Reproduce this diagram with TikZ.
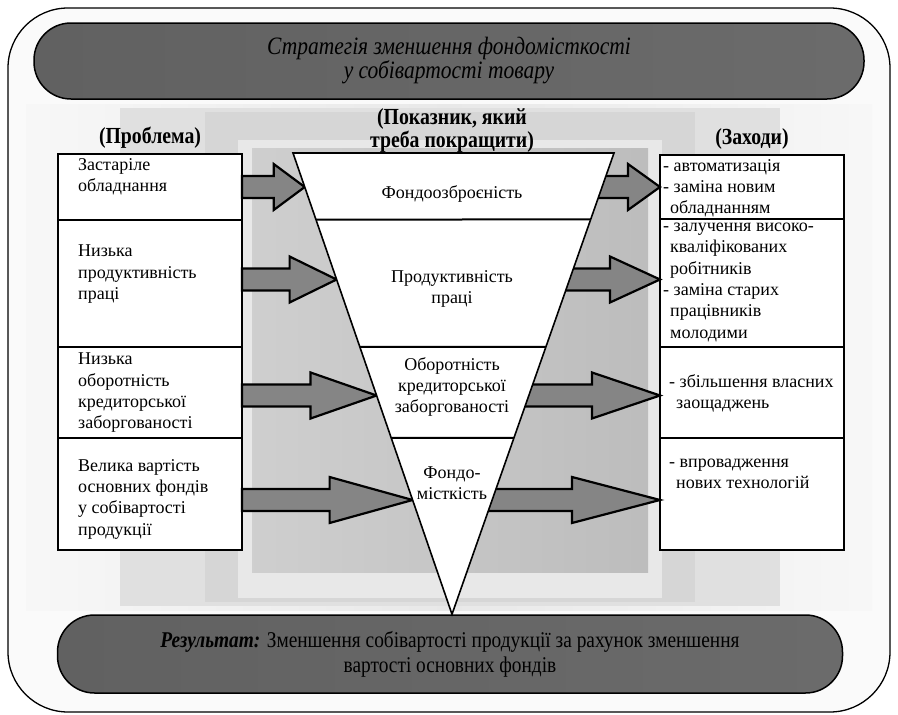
\documentclass[tikz,border=0pt]{standalone}
\usepackage{fontspec}
\setmainfont{Liberation Serif}
\newfontfamily\timesfont{Liberation Serif}
\newfontfamily\narrowfont[FakeStretch=0.86]{Liberation Serif}
\usetikzlibrary{positioning,calc}

% товста стрілка: початок, вістря, довжина голівки
\newcommand{\fatarrow}[3]{%
  \draw[fatarrow] let \p1=#1, \p2=#2 in
    (\x1,\y1+11pt) -- (\x2-#3,\y1+11pt) -- (\x2-#3,\y1+23pt) -- (\x2,\y1)
    -- (\x2-#3,\y1-23pt) -- (\x2-#3,\y1-11pt) -- (\x1,\y1-11pt) -- cycle;}
\newcommand{\ind}{\hspace*{7pt}}

\begin{document}
\begin{tikzpicture}[
    x=1pt, y=-1pt,
    font=\timesfont\fontsize{18}{21.3}\selectfont,
    box/.style={draw, line width=2.2pt, fill=white, minimum width=184pt,
        outer sep=0pt, inner sep=0pt},
    boxtext/.style={inner sep=0pt, align=left},
    slicetext/.style={inner sep=0pt, align=center},
    heading/.style={inner sep=0pt, align=center,
        font=\narrowfont\fontsize{23}{23}\selectfont\bfseries},
    banner/.style={draw, line width=1.5pt, rounded corners=37pt,
        inner sep=0pt, align=center,
        left color=black!62, middle color=black!12, right color=black!58},
    fatarrow/.style={draw, line width=2.2pt, fill=black!48, line join=miter},
]
    \useasboundingbox (0,0) rectangle (898,715);

    % рамка і фон
    \draw[line width=1.3pt, fill=black!2, rounded corners=60pt] (8,8) rectangle (890,712);
    \shade[left color=black!3, right color=black!9] (26,104) rectangle (449,610);
    \shade[left color=black!9, right color=black!3] (449,104) rectangle (872,610);
    \fill[black!12] (120,108) rectangle (780,606);
    \fill[black!16] (205,112) rectangle (695,602);
    \fill[black!9]  (238,140) rectangle (662,598);
    \shade[left color=black!19, right color=black!26] (252,148) rectangle (648,572);

    % банери
    \node[banner, minimum width=830pt, minimum height=76pt,
        font=\narrowfont\fontsize{25}{24}\selectfont\itshape] (goal) at (449,61)
        {Стратегія зменшення фондомісткості\\у собівартості товару};
    \node[banner, minimum width=785pt, minimum height=78pt,
        font=\narrowfont\fontsize{22.5}{25}\selectfont] (result) at (450,654)
        {\textbf{\textit{Результат:}} Зменшення собівартості продукції за рахунок зменшення\\вартості основних фондів};

    % проблеми
    \node[box, minimum height=66pt, anchor=north west] (p1) at (58,154) {};
    \node[box, minimum height=127pt, below=0pt of p1] (p2) {};
    \node[box, minimum height=91pt, below=0pt of p2] (p3) {};
    \node[box, minimum height=112pt, below=0pt of p3] (p4) {};

    % заходи
    \node[box, minimum height=64pt, anchor=north west] (m1) at (660,155) {};
    \node[box, minimum height=128pt, below=0pt of m1] (m2) {};
    \node[box, minimum height=91pt, below=0pt of m2] (m3) {};
    \node[box, minimum height=112pt, below=0pt of m3] (m4) {};

    % заголовки
    \node[heading, above=5pt of p1] (hp) {(Проблема)};
    \node[heading, above=5pt of m1] (hm) {(Заходи)};
    \node[heading] (hi) at (452,130) {(Показник, який\\треба покращити)};

    % тексти
    \node[boxtext, below right=4pt and 20pt of p1.north west] (t1) {Застаріле\\обладнання};
    \node[boxtext, below right=25pt and 20pt of p2.north west] (t2) {Низька\\продуктивність\\праці};
    \node[boxtext, below right=6pt and 20pt of p3.north west] (t3) {Низька\\оборотність\\кредиторської\\заборгованості};
    \node[boxtext, below right=21pt and 20pt of p4.north west] (t4) {Велика вартість\\основних фондів\\у собівартості\\продукції};

    \node[boxtext, below right=4pt and 3pt of m1.north west] (n1) {- автоматизація\\- заміна новим\\\ind обладнанням};
    \node[boxtext, below right=4pt and 3pt of m2.north west] (n2) {- залучення високо-\\\ind кваліфікованих\\\ind робітників\\- заміна старих\\\ind працівників\\\ind молодими};
    \node[boxtext, below right=27pt and 9pt of m3.north west] (n3) {- збільшення власних\\\ind заощаджень};
    \node[boxtext, below right=21pt and 9pt of m4.north west] (n4) {- впровадження\\\ind нових технологій};

    % трикутник
    \coordinate (tl) at (293,153);
    \coordinate (tr) at (614,153);
    \coordinate (apex) at ([xshift=2pt]result.north);

    % стрілки
    \coordinate (a1) at (p1.east);
    \coordinate (a2) at ([yshift=4pt]p2.east);
    \coordinate (a3) at ([yshift=-3pt]p3.east);
    \coordinate (a4) at ([yshift=-6pt]p4.east);
    \foreach \i/\hl/\hr in {1/31/32, 2/47/50, 3/66/68, 4/83/88} {
        \coordinate (b\i) at (a\i -| m\i.west);
        \coordinate (l\i) at (intersection of tl--apex and a\i--b\i);
        \coordinate (e\i) at (intersection of tr--apex and a\i--b\i);
        \fatarrow{(a\i)}{(l\i)}{\hl pt}
        \fatarrow{([xshift=-15pt]e\i)}{(b\i)}{\hr pt}
    }

    \draw[line width=1.6pt, fill=white, line join=miter] (tl) -- (tr) -- (apex) -- cycle;
    \foreach \k in {1,2,3}
        \draw[line width=2pt] (intersection of tl--apex and p\k.south--m\k.south)
            -- (intersection of tr--apex and p\k.south--m\k.south);

    \node[slicetext] (s1) at (452,194) {Фондоозброєність};
    \node[slicetext] (s2) at (452,289) {Продуктивність\\праці};
    \node[slicetext] (s3) at (452,387) {Оборотність\\кредиторської\\заборгованості};
    \node[slicetext] (s4) at (452,483) {Фондо-\\місткість};
\end{tikzpicture}
\end{document}
